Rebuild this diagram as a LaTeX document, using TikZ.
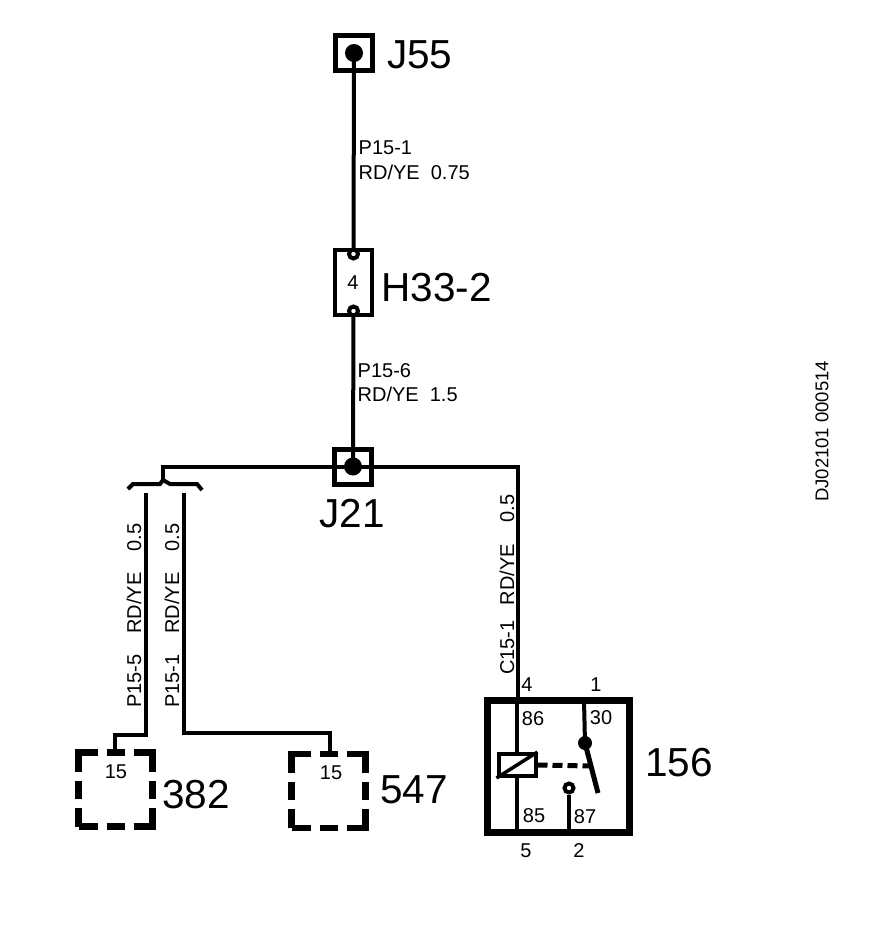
\documentclass[tikz,border=0pt]{standalone}
\usepackage{fontspec}
\setmainfont{Liberation Sans}
\usepackage{tikz}
\usetikzlibrary{backgrounds}
\newcommand{\wirewidth}{4pt}
\newcommand{\bigsize}{\fontsize{40.5}{40.5}\selectfont}
\newcommand{\smallsize}{\fontsize{20}{20}\selectfont}
\tikzset{
  wire/.style={line width=\wirewidth},
  splice/.style={draw,line width=5.5pt,inner sep=0pt,minimum width=37pt,minimum height=35pt},
  blob/.style={circle,fill,inner sep=0pt,minimum size=18pt},
  ringnode/.style={circle,draw,fill=white,line width=4pt,inner sep=0pt,minimum size=9pt},
  partbox/.style={draw,line width=6.5pt,inner sep=0pt,minimum width=74pt,minimum height=74pt,
    dash pattern=on 38pt off 9pt on 18pt off 9pt,dash phase=19pt},
  biglabel/.style={inner sep=0pt,font=\bigsize},
  smalllabel/.style={inner sep=0pt,font=\smallsize},
  wirelabel/.style={inner sep=0pt,font=\smallsize,anchor=west},
  sidelabel/.style={inner sep=0pt,font=\smallsize,anchor=west,rotate=90}
}

\begin{document}
\begin{tikzpicture}[x=1pt,y=-1pt]
\useasboundingbox (0,0) rectangle (896,948);
%J55
\node[splice] (j55) at (354,53) {};
\node[blob] (j55dot) at (354,53) {};
\node[biglabel,anchor=west] (j55text) at (387,55) {J55};
%H33-2
\node[draw,line width=4.5pt,inner sep=0pt,minimum width=37pt,minimum height=65pt] (h33) at (353.5,282.5) {};
\node[ringnode] (h33top) at (353.5,254) {};
\node[ringnode] (h33bot) at (353.5,311) {};
\node[smalllabel] (h33pin) at (353,283) {4};
\node[biglabel,anchor=west] (h33text) at (381.5,288) {H33-2};
%J21
\node[splice] (j21) at (353,467) {};
\node[blob] (j21dot) at (353,466.5) {};
\node[biglabel] (j21text) at (352,514) {J21};
%wire points
\coordinate (lefttop) at (163,466.5);
\coordinate (forkin) at (163,480);
\coordinate (forka) at (128,489);
\coordinate (forkb) at (133,484);
\coordinate (forkc) at (160,484);
\coordinate (forkd) at (170,484);
\coordinate (forke) at (197,484);
\coordinate (forkf) at (202,490);
\coordinate (righttop) at (518,466.5);
\coordinate (w382a) at (146,493);
\coordinate (w382b) at (146,735);
\coordinate (w382c) at (115,735);
\coordinate (w547a) at (184,493);
\coordinate (w547b) at (184,733);
\coordinate (w547c) at (330,733);
%382
\node[partbox] (p382) at (115.5,789.5) {};
\node[smalllabel] (p382pin) at (116,772) {15};
\node[biglabel,anchor=west] (p382text) at (162,795) {382};
%547
\node[partbox] (p547) at (328.5,791) {};
\node[smalllabel] (p547pin) at (331,773) {15};
\node[biglabel,anchor=west] (p547text) at (380,790) {547};
%156
\node[draw,line width=7pt,inner sep=0pt,minimum width=142pt,minimum height=132pt] (r156) at (558.5,766.5) {};
\node[draw,line width=4pt,inner sep=0pt,minimum width=37pt,minimum height=22pt] (coil) at (517,765) {};
\node[circle,fill,inner sep=0pt,minimum size=14pt] (pivot) at (585,743) {};
\node[ringnode] (contact) at (569,788) {};
\coordinate (bladeend) at (598,793);
\coordinate (blademid) at (590,766);
\coordinate (pin86) at (517,832);
\coordinate (pin30) at (584,700);
\coordinate (pin87) at (569,832);
\node[smalllabel] (t86) at (533,719) {86};
\node[smalllabel] (t30) at (601,718) {30};
\node[smalllabel] (t85) at (534,816) {85};
\node[smalllabel] (t87) at (585,817) {87};
\node[smalllabel] (t4) at (527,685) {4};
\node[smalllabel] (t1) at (596,685) {1};
\node[smalllabel] (t5) at (526,851) {5};
\node[smalllabel] (t2) at (579,851) {2};
\node[biglabel] (t156) at (679,763) {156};
%wire texts
\node[wirelabel] (l1a) at (358.5,148) {P15-1};
\node[wirelabel] (l1b) at (358.5,172) {RD/YE\hspace{11pt}0.75};
\node[wirelabel] (l2a) at (357.5,371) {P15-6};
\node[wirelabel] (l2b) at (357.5,394) {RD/YE\hspace{11pt}1.5};
\node[sidelabel] (l3) at (134,708) {P15-5\hspace{21pt}RD/YE\hspace{21pt}0.5};
\node[sidelabel] (l4) at (172,708) {P15-1\hspace{21pt}RD/YE\hspace{21pt}0.5};
\node[sidelabel] (l5) at (507,675) {C15-1\hspace{15pt}RD/YE\hspace{22pt}0.5};
\node[sidelabel,font=\fontsize{18.5}{18.5}\selectfont] (code) at (822,502) {DJ02101 000514};
%wires
\begin{scope}[on background layer]
\draw[wire] (j55dot.center) -- (h33top.center);
\draw[wire] (h33bot.center) -- (j21dot.center);
\draw[wire] (j21dot.center) -- (lefttop) -- (forkin);
\draw[wire] (j21dot.center) -- (righttop) -- (r156.north -| righttop);
\draw[wire] (forka) -- (forkb) -- (forkc) -- (forkin) -- (forkd) -- (forke) -- (forkf);
\draw[wire,line join=miter] (w382a) -- (w382b) -- (w382c) -- (p382.north -| w382c);
\draw[wire,line join=miter] (w547a) -- (w547b) -- (w547c) -- (p547.north -| w547c);
\end{scope}
\draw[wire] (r156.north -| coil) -- (coil.north);
\draw[wire] (coil.south) -- (pin86);
\draw[wire] (pin30) -- (pivot.center);
\draw[wire] (contact.south) -- (pin87);
\draw[line width=5pt] (pivot.center) -- (bladeend);
\draw[line width=5pt,dash pattern=on 10pt off 5pt] (coil.east) -- (blademid);
\draw[line width=3.5pt] (coil.south west) -- (coil.north east);
\end{tikzpicture}
\end{document}
